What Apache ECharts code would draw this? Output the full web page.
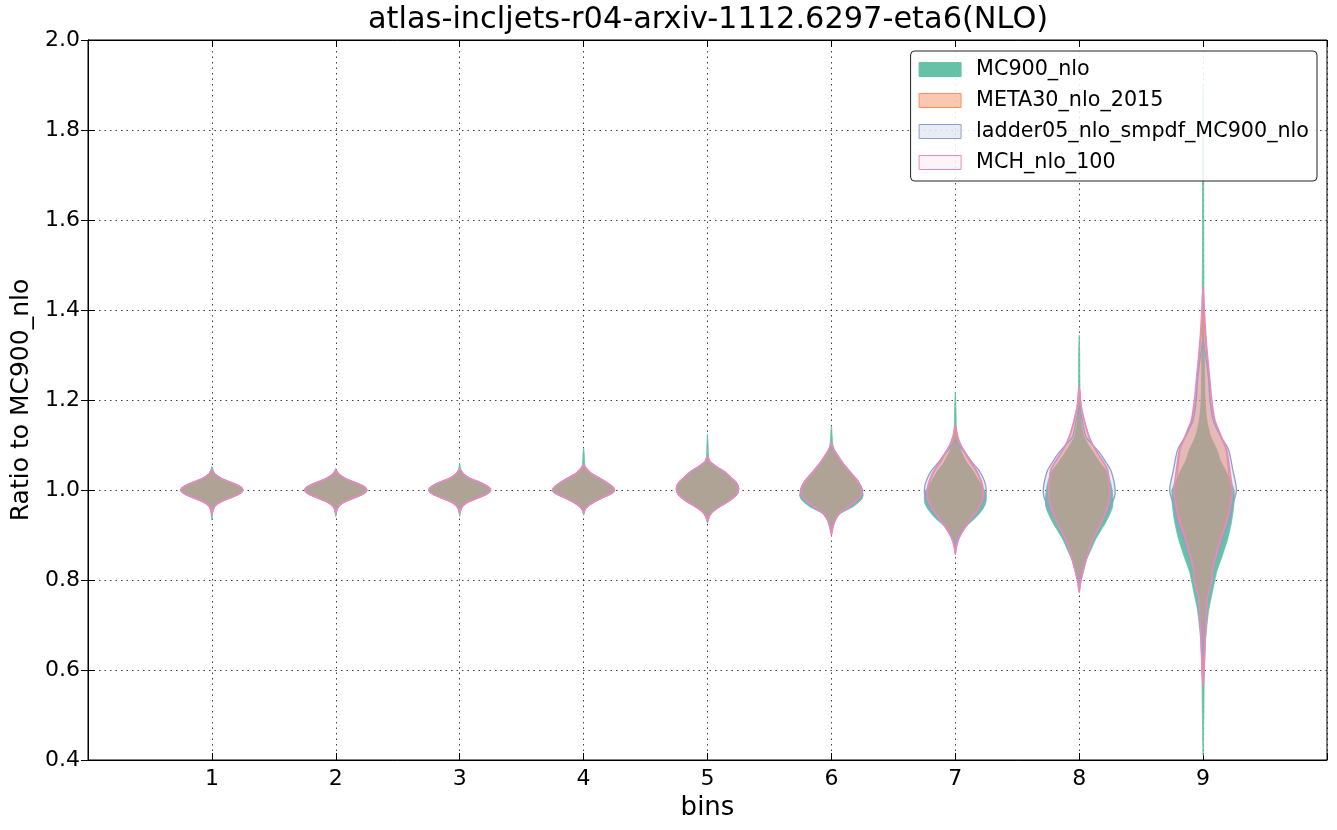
<!DOCTYPE html>
<html>
<head>
<meta charset="utf-8">
<script src="https://cdn.jsdelivr.net/npm/echarts@6/dist/echarts.min.js"></script>
<style>
html,body{margin:0;padding:0;background:#fff;}
#chart{width:1337px;height:830px;}
</style>
</head>
<body>
<div id="chart"></div>
<script>
// ---------- DATA ----------
const titleText = "atlas-incljets-r04-arxiv-1112.6297-eta6(NLO)";
const bins = [1, 2, 3, 4, 5, 6, 7, 8, 9];
const seriesNames = ["MC900_nlo", "META30_nlo_2015", "ladder05_nlo_smpdf_MC900_nlo", "MCH_nlo_100"];
const yTicks = [0.4, 0.6, 0.8, 1.0, 1.2, 1.4, 1.6, 1.8, 2.0];

// violin profiles: per bin, list of [ratio value, half width (in bin units)]
const mc900Profiles = [
  [[0.933,0],[0.945,0.005],[0.955,0.008],[0.965,0.025],[0.975,0.08],[0.985,0.17],[0.993,0.23],[1.0,0.25],[1.007,0.23],[1.015,0.17],[1.025,0.08],[1.035,0.025],[1.045,0.008],[1.052,0]],
  [[0.941,0],[0.95,0.005],[0.958,0.01],[0.966,0.03],[0.975,0.08],[0.985,0.17],[0.993,0.23],[1.0,0.25],[1.007,0.23],[1.015,0.17],[1.025,0.08],[1.035,0.025],[1.042,0.008],[1.048,0]],
  [[0.941,0],[0.95,0.005],[0.958,0.01],[0.966,0.03],[0.975,0.08],[0.985,0.17],[0.993,0.23],[1.0,0.25],[1.007,0.23],[1.016,0.17],[1.026,0.08],[1.036,0.028],[1.045,0.01],[1.057,0]],
  [[0.944,0],[0.955,0.008],[0.963,0.03],[0.974,0.087],[0.985,0.17],[0.993,0.23],[1.0,0.25],[1.008,0.23],[1.022,0.155],[1.037,0.06],[1.05,0.015],[1.065,0.007],[1.08,0.005],[1.093,0]],
  [[0.926,0],[0.935,0.006],[0.942,0.015],[0.949,0.032],[0.956,0.06],[0.963,0.097],[0.97,0.14],[0.978,0.185],[0.99,0.235],[1.0,0.25],[1.01,0.245],[1.018,0.226],[1.03,0.18],[1.041,0.135],[1.052,0.07],[1.063,0.02],[1.075,0.008],[1.1,0.005],[1.124,0]],
  [[0.911,0],[0.922,0.01],[0.933,0.03],[0.948,0.074],[0.963,0.175],[0.978,0.24],[0.989,0.257],[1.0,0.245],[1.019,0.205],[1.037,0.15],[1.059,0.085],[1.081,0.035],[1.1,0.012],[1.12,0.006],[1.142,0]],
  [[0.875,0],[0.89,0.012],[0.904,0.045],[0.915,0.075],[0.926,0.115],[0.94,0.17],[0.956,0.218],[0.97,0.245],[0.985,0.25],[1.0,0.235],[1.02,0.19],[1.044,0.14],[1.06,0.095],[1.081,0.055],[1.1,0.025],[1.13,0.01],[1.17,0.006],[1.218,0]],
  [[0.785,0],[0.8,0.01],[0.816,0.03],[0.844,0.058],[0.87,0.1],[0.889,0.13],[0.91,0.175],[0.926,0.21],[0.945,0.245],[0.963,0.27],[0.98,0.272],[1.0,0.265],[1.02,0.25],[1.044,0.215],[1.06,0.17],[1.081,0.12],[1.1,0.075],[1.118,0.04],[1.14,0.022],[1.156,0.015],[1.2,0.008],[1.25,0.005],[1.3,0.004],[1.344,0]],
  [[0.41,0],[0.5,0.006],[0.6,0.01],[0.667,0.02],[0.733,0.045],[0.76,0.065],[0.8,0.095],[0.819,0.11],[0.85,0.15],[0.893,0.2],[0.93,0.23],[0.967,0.248],[1.0,0.25],[1.02,0.22],[1.044,0.18],[1.065,0.14],[1.09,0.11],[1.12,0.06],[1.156,0.03],[1.2,0.016],[1.3,0.01],[1.4,0.007],[1.6,0.005],[1.75,0.004],[1.9,0]]
];

const meta30Profiles = [
  [[0.945,0],[0.955,0.008],[0.965,0.025],[0.975,0.08],[0.985,0.17],[0.993,0.23],[1.0,0.25],[1.007,0.23],[1.015,0.17],[1.025,0.08],[1.035,0.025],[1.044,0]],
  [[0.948,0],[0.958,0.01],[0.966,0.03],[0.975,0.08],[0.985,0.17],[0.993,0.23],[1.0,0.25],[1.007,0.23],[1.015,0.17],[1.025,0.08],[1.035,0.025],[1.043,0]],
  [[0.948,0],[0.958,0.01],[0.966,0.03],[0.975,0.08],[0.985,0.17],[0.993,0.23],[1.0,0.25],[1.007,0.23],[1.016,0.17],[1.026,0.08],[1.036,0.028],[1.046,0]],
  [[0.948,0],[0.955,0.008],[0.963,0.03],[0.974,0.087],[0.985,0.17],[0.993,0.23],[1.0,0.25],[1.008,0.23],[1.022,0.155],[1.037,0.06],[1.05,0.015],[1.056,0]],
  [[0.93,0],[0.935,0.006],[0.942,0.015],[0.949,0.032],[0.956,0.06],[0.963,0.097],[0.97,0.14],[0.978,0.185],[0.99,0.235],[1.0,0.25],[1.01,0.245],[1.018,0.226],[1.03,0.18],[1.041,0.135],[1.052,0.07],[1.063,0.02],[1.074,0]],
  [[0.902,0],[0.915,0.01],[0.933,0.03],[0.948,0.065],[0.963,0.145],[0.978,0.215],[0.99,0.243],[1.0,0.25],[1.019,0.215],[1.037,0.16],[1.059,0.094],[1.081,0.04],[1.095,0.012],[1.104,0]],
  [[0.862,0],[0.875,0.008],[0.89,0.025],[0.904,0.05],[0.926,0.1],[0.956,0.18],[0.98,0.215],[1.0,0.22],[1.02,0.205],[1.044,0.165],[1.06,0.125],[1.081,0.08],[1.1,0.04],[1.12,0.015],[1.14,0]],
  [[0.774,0],[0.79,0.008],[0.816,0.028],[0.844,0.054],[0.889,0.107],[0.926,0.175],[0.963,0.23],[0.985,0.245],[1.0,0.245],[1.02,0.24],[1.044,0.23],[1.06,0.2],[1.081,0.15],[1.1,0.11],[1.118,0.08],[1.14,0.055],[1.156,0.04],[1.18,0.02],[1.2,0.01],[1.23,0]],
  [[0.57,0],[0.6,0.008],[0.667,0.016],[0.7,0.022],[0.733,0.027],[0.76,0.035],[0.8,0.065],[0.819,0.074],[0.85,0.1],[0.893,0.14],[0.93,0.18],[0.967,0.21],[1.0,0.218],[1.044,0.205],[1.09,0.185],[1.12,0.14],[1.156,0.09],[1.2,0.06],[1.244,0.05],[1.3,0.03],[1.35,0.015],[1.4,0]]
];

const ladder05Profiles = [
  [[0.945,0],[0.955,0.008],[0.965,0.025],[0.975,0.08],[0.985,0.17],[0.993,0.23],[1.0,0.25],[1.007,0.23],[1.015,0.17],[1.025,0.08],[1.035,0.025],[1.044,0]],
  [[0.948,0],[0.958,0.01],[0.966,0.03],[0.975,0.08],[0.985,0.17],[0.993,0.23],[1.0,0.25],[1.007,0.23],[1.015,0.17],[1.025,0.08],[1.035,0.025],[1.043,0]],
  [[0.948,0],[0.958,0.01],[0.966,0.03],[0.975,0.08],[0.985,0.17],[0.993,0.23],[1.0,0.25],[1.007,0.23],[1.016,0.17],[1.026,0.08],[1.036,0.028],[1.046,0]],
  [[0.948,0],[0.955,0.008],[0.963,0.03],[0.974,0.087],[0.985,0.17],[0.993,0.23],[1.0,0.25],[1.008,0.23],[1.022,0.155],[1.037,0.06],[1.05,0.015],[1.056,0]],
  [[0.93,0],[0.935,0.006],[0.942,0.015],[0.949,0.032],[0.956,0.06],[0.963,0.097],[0.97,0.14],[0.978,0.185],[0.99,0.235],[1.0,0.25],[1.01,0.245],[1.018,0.226],[1.03,0.18],[1.041,0.135],[1.052,0.07],[1.063,0.02],[1.072,0]],
  [[0.905,0],[0.918,0.01],[0.933,0.03],[0.948,0.065],[0.963,0.15],[0.978,0.22],[0.99,0.245],[1.0,0.25],[1.019,0.215],[1.037,0.16],[1.059,0.094],[1.081,0.04],[1.092,0.012],[1.1,0]],
  [[0.87,0],[0.885,0.01],[0.904,0.04],[0.926,0.1],[0.956,0.19],[0.98,0.24],[1.0,0.25],[1.02,0.235],[1.044,0.19],[1.06,0.14],[1.081,0.085],[1.095,0.04],[1.11,0]],
  [[0.793,0],[0.805,0.01],[0.816,0.025],[0.844,0.054],[0.889,0.107],[0.926,0.175],[0.963,0.25],[0.985,0.285],[1.0,0.29],[1.02,0.28],[1.044,0.255],[1.06,0.22],[1.081,0.17],[1.1,0.11],[1.118,0.054],[1.14,0.035],[1.156,0.024],[1.17,0.012],[1.185,0]],
  [[0.63,0],[0.667,0.008],[0.7,0.015],[0.733,0.025],[0.76,0.035],[0.8,0.065],[0.819,0.074],[0.85,0.11],[0.893,0.16],[0.93,0.21],[0.967,0.24],[1.0,0.27],[1.044,0.24],[1.09,0.205],[1.12,0.14],[1.156,0.08],[1.2,0.055],[1.244,0.045],[1.3,0.02],[1.333,0]]
];

const mchProfiles = [
  [[0.945,0],[0.955,0.008],[0.965,0.025],[0.975,0.08],[0.985,0.17],[0.993,0.23],[1.0,0.25],[1.007,0.23],[1.015,0.17],[1.025,0.08],[1.035,0.025],[1.044,0]],
  [[0.948,0],[0.958,0.01],[0.966,0.03],[0.975,0.08],[0.985,0.17],[0.993,0.23],[1.0,0.25],[1.007,0.23],[1.015,0.17],[1.025,0.08],[1.035,0.025],[1.043,0]],
  [[0.948,0],[0.958,0.01],[0.966,0.03],[0.975,0.08],[0.985,0.17],[0.993,0.23],[1.0,0.25],[1.007,0.23],[1.016,0.17],[1.026,0.08],[1.036,0.028],[1.046,0]],
  [[0.948,0],[0.955,0.008],[0.963,0.03],[0.974,0.087],[0.985,0.17],[0.993,0.23],[1.0,0.25],[1.008,0.23],[1.022,0.155],[1.037,0.06],[1.05,0.015],[1.056,0]],
  [[0.93,0],[0.935,0.006],[0.942,0.015],[0.949,0.032],[0.956,0.06],[0.963,0.097],[0.97,0.14],[0.978,0.185],[0.99,0.235],[1.0,0.25],[1.01,0.245],[1.018,0.226],[1.03,0.18],[1.041,0.135],[1.052,0.07],[1.063,0.02],[1.074,0]],
  [[0.9,0],[0.915,0.01],[0.933,0.03],[0.948,0.063],[0.963,0.14],[0.978,0.21],[0.99,0.24],[1.0,0.245],[1.019,0.215],[1.037,0.16],[1.059,0.094],[1.081,0.04],[1.095,0.012],[1.104,0]],
  [[0.857,0],[0.872,0.008],[0.89,0.025],[0.904,0.05],[0.926,0.1],[0.956,0.18],[0.98,0.222],[1.0,0.226],[1.02,0.21],[1.044,0.17],[1.06,0.13],[1.081,0.085],[1.1,0.045],[1.12,0.018],[1.144,0]],
  [[0.772,0],[0.79,0.008],[0.816,0.028],[0.844,0.054],[0.889,0.107],[0.926,0.175],[0.963,0.23],[0.985,0.245],[1.0,0.247],[1.02,0.242],[1.044,0.23],[1.06,0.2],[1.081,0.15],[1.1,0.11],[1.118,0.08],[1.14,0.055],[1.156,0.04],[1.18,0.02],[1.2,0.01],[1.23,0]],
  [[0.563,0],[0.6,0.008],[0.667,0.016],[0.7,0.022],[0.733,0.027],[0.76,0.035],[0.8,0.07],[0.819,0.074],[0.85,0.1],[0.893,0.145],[0.93,0.19],[0.967,0.22],[1.0,0.235],[1.044,0.215],[1.09,0.19],[1.12,0.145],[1.156,0.094],[1.2,0.07],[1.244,0.054],[1.3,0.035],[1.35,0.02],[1.4,0.01],[1.452,0]]
];

// ---------- STYLE ----------
const allProfiles = [mc900Profiles, meta30Profiles, ladder05Profiles, mchProfiles];
const styles = [
  {fill: 'rgba(102,194,165,1)', stroke: 'rgba(102,194,165,1)', lw: 0.8},
  {fill: 'rgba(252,141,98,0.5)', stroke: '#fc8d62', lw: 1.2},
  {fill: 'rgba(141,160,203,0.2)', stroke: '#8da0cb', lw: 1.3},
  {fill: 'rgba(231,138,195,0.1)', stroke: '#e78ac3', lw: 1.6}
];
const FONT = 'DejaVu Sans';

const chart = echarts.init(document.getElementById('chart'), null, {renderer: 'canvas'});

function makeSeries(si) {
  return {
    name: seriesNames[si],
    type: 'custom',
    xAxisIndex: 0,
    yAxisIndex: 0,
    itemStyle: {color: styles[si].fill, borderColor: styles[si].stroke, borderWidth: 1},
    data: bins.map(b => [b]),
    z: 2 + si,
    renderItem: function (params, api) {
      const prof = allProfiles[si][params.dataIndex];
      const c = api.value(0);
      const pts = [];
      for (let i = 0; i < prof.length; i++) pts.push(api.coord([c + prof[i][1], prof[i][0]]));
      for (let i = prof.length - 2; i >= 1; i--) pts.push(api.coord([c - prof[i][1], prof[i][0]]));
      return {
        type: 'polygon',
        shape: {points: pts, smooth: 0.25},
        style: {fill: styles[si].fill, stroke: styles[si].stroke, lineWidth: styles[si].lw}
      };
    }
  };
}

const axisText = {color: '#000', fontFamily: FONT, fontSize: 22};
const gridLine = {show: true, lineStyle: {color: '#000', type: [1.5, 4], width: 1, opacity: 0.75}};

const option = {
  animation: false,
  backgroundColor: '#fff',
  title: {
    text: titleText, left: 368, top: 5, padding: 0,
    textStyle: {fontFamily: FONT, fontSize: 30.4, fontWeight: 'normal', color: '#000'}
  },
  grid: {left: 88, right: 10, top: 40, bottom: 70, show: true, borderColor: '#000', borderWidth: 1, backgroundColor: 'transparent'},
  legend: {
    orient: 'vertical', right: 20, top: 51,
    padding: [8, 8, 8, 8],
    itemWidth: 42, itemHeight: 14, itemGap: 10,
    backgroundColor: 'rgba(255,255,255,0.85)',
    borderColor: '#222', borderWidth: 1, borderRadius: 4,
    textStyle: {fontFamily: FONT, fontSize: 20.7, lineHeight: 20, color: '#000', padding: [0, 0, 0, 10]},
    data: seriesNames.map((n, i) => ({
      name: n, icon: 'rect',
      itemStyle: {color: styles[i].fill, borderColor: styles[i].stroke, borderWidth: 1}
    })),
    z: 20
  },
  xAxis: [{
    type: 'value', min: 0, max: 10, interval: 1,
    name: 'bins', nameLocation: 'middle', nameGap: 33,
    nameTextStyle: {fontFamily: FONT, fontSize: 26, color: '#000'},
    axisLine: {show: true, lineStyle: {color: '#000', width: 1}},
    axisTick: {show: true, inside: true, length: 7, lineStyle: {color: '#000'}},
    axisLabel: Object.assign({margin: 8, formatter: v => (v >= 1 && v <= 9 ? String(v) : '')}, axisText),
    splitLine: gridLine
  }, {
    type: 'value', min: 0, max: 10, interval: 1, position: 'top',
    axisLine: {show: true, lineStyle: {color: '#000', width: 1}},
    axisTick: {show: true, inside: true, length: 7, lineStyle: {color: '#000'}},
    axisLabel: {show: false}, splitLine: {show: false}
  }],
  yAxis: [{
    type: 'value', min: yTicks[0], max: yTicks[yTicks.length - 1], interval: 0.2,
    name: 'Ratio to MC900_nlo', nameLocation: 'middle', nameGap: 54,
    nameTextStyle: {fontFamily: FONT, fontSize: 25, color: '#000'},
    axisLine: {show: true, lineStyle: {color: '#000', width: 1}},
    axisTick: {show: true, inside: true, length: 7, lineStyle: {color: '#000'}},
    axisLabel: Object.assign({margin: 8, formatter: v => v.toFixed(1)}, axisText),
    splitLine: gridLine
  }, {
    type: 'value', min: yTicks[0], max: yTicks[yTicks.length - 1], interval: 0.2, position: 'right',
    axisLine: {show: true, lineStyle: {color: '#000', width: 1}},
    axisTick: {show: true, inside: true, length: 7, lineStyle: {color: '#000'}},
    axisLabel: {show: false}, splitLine: {show: false}
  }],
  series: [0, 1, 2, 3].map(makeSeries)
};
chart.setOption(option);
</script>
</body>
</html>
